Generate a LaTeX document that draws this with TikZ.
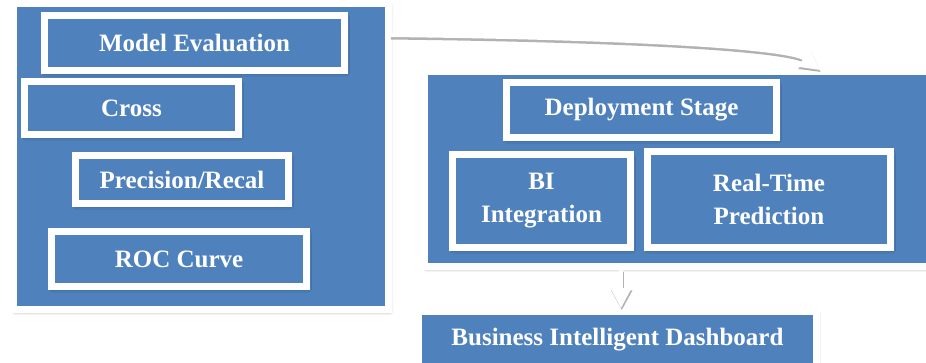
\documentclass[tikz,border=0pt]{standalone}
\usepackage{fontspec}
\setmainfont{Liberation Serif}
\usetikzlibrary{shadows.blur,arrows.meta}
\definecolor{stageblue}{HTML}{4F81BD}
\tikzset{
  panel/.style={draw=white, fill=stageblue, line width=5pt, inner sep=0pt,
    blur shadow={shadow xshift=1.2pt, shadow yshift=-1.8pt, shadow blur radius=2.5pt, shadow opacity=45}},
  stagebox/.style={panel, text=white, align=center,
    font=\bfseries\fontsize{18.75}{24.75}\selectfont},
  flow/.style={draw=white, line width=3pt, -{Triangle[length=15pt,width=15pt]},
    preaction={draw=black!30, line width=3.6pt, transform canvas={xshift=0.6pt,yshift=-1.6pt}}},
}
\begin{document}
\begin{tikzpicture}[x=0.75pt,y=-0.75pt]
    \useasboundingbox (0,0) rectangle (926,362);
    \clip (0,0) rectangle (926,362);

    \node[panel, minimum width=281.25pt, minimum height=229.5pt] (evalbg) at (201,156.5) {};
    \node[stagebox, minimum width=225pt, minimum height=41.25pt] (mev) at (194.5,43) {Model Evaluation};
    \node[stagebox, minimum width=160.5pt, minimum height=39.75pt] (cross) at (131.5,108) {Cross};
    \node[stagebox, minimum width=159.75pt, minimum height=36pt] (prec) at (182,179.5) {Precision/Recal};
    \node[stagebox, minimum width=191.25pt, minimum height=41.25pt] (roc) at (179,259) {ROC Curve};

    \node[panel, minimum width=383.25pt, minimum height=146.25pt] (deploybg) at (680,169) {};
    \node[stagebox, minimum width=202.5pt, minimum height=41.25pt] (deploy) at (641.5,110) {Deployment Stage};
    \node[stagebox, minimum width=133.5pt, minimum height=69.75pt] (bi) at (541.5,201) {BI\\Integration};
    \node[stagebox, minimum width=182.25pt, minimum height=72pt] (rtp) at (769,199.5) {Real-Time\\Prediction};

    \node[stagebox, minimum width=298.5pt, minimum height=42pt] (dash) at (617.5,339.5) {Business Intelligent Dashboard};

    \coordinate (arcstart) at (390,35);
    \coordinate (arctip) at (820,70);
    \draw[flow] (arcstart) .. controls (650,38) and (790,48) .. (arctip);

    \coordinate (dropx) at (621,0);
    \draw[flow] (deploybg.south -| dropx) -- (dash.north -| dropx);
  \end{tikzpicture}
\end{document}
